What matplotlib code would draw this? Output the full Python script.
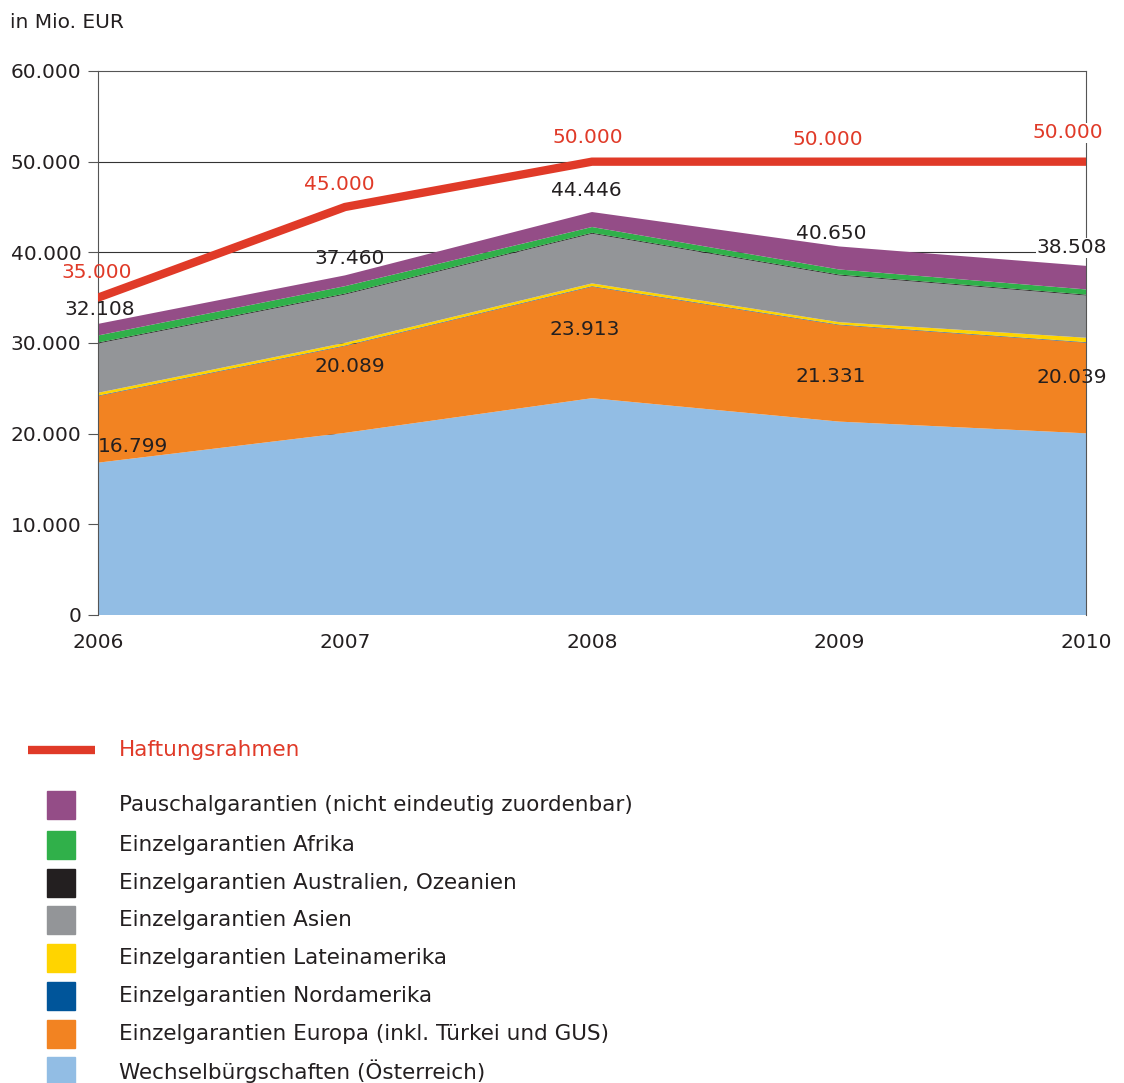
import numpy as np
import matplotlib
matplotlib.use("Agg")
import matplotlib.pyplot as plt
from matplotlib.patches import Rectangle

plt.rcParams['font.family'] = ['DejaVu Sans']
plt.rcParams['font.size'] = 14.5

# Data (Mio. EUR)
years = [2006, 2007, 2008, 2009, 2010]
wechsel = [16799, 20089, 23913, 21331, 20039]
europa = [7350, 9580, 12300, 10650, 10000]
nordamerika = [60, 60, 60, 60, 60]
lateinamerika = [300, 290, 300, 260, 480]
asien = [5440, 5330, 5480, 5150, 4660]
australien = [100, 100, 100, 100, 100]
afrika = [780, 820, 640, 560, 570]
totals = [32108, 37460, 44446, 40650, 38508]
haftung = [35000, 45000, 50000, 50000, 50000]

names = ['Wechselbürgschaften (Österreich)',
         'Einzelgarantien Europa (inkl. Türkei und GUS)',
         'Einzelgarantien Nordamerika',
         'Einzelgarantien Lateinamerika',
         'Einzelgarantien Asien',
         'Einzelgarantien Australien, Ozeanien',
         'Einzelgarantien Afrika',
         'Pauschalgarantien (nicht eindeutig zuordenbar)']
colors = ['#92BDE4', '#F28322', '#00559A', '#FFD400', '#939598', '#231F20', '#30B04A', '#944D87']
red = '#E03A28'
txt = '#231F20'

# Pauschalgarantien = rest up to total
below = np.array(wechsel) + np.array(europa) + np.array(nordamerika) + np.array(lateinamerika) \
    + np.array(asien) + np.array(australien) + np.array(afrika)
pauschal = list(np.array(totals) - below)
layers = [wechsel, europa, nordamerika, lateinamerika, asien, australien, afrika, pauschal]

fig = plt.figure(figsize=(11.24, 10.83), dpi=100)
ax = fig.add_axes([98/1124, 1-615/1083, (1086-98)/1124, (615-71)/1083])

ax.stackplot(years, *layers, colors=colors, zorder=2)
ax.plot(years, haftung, color=red, lw=6, solid_joinstyle='miter', zorder=4)

ax.set_xlim(2006, 2010)
ax.set_ylim(0, 60000)
ax.set_yticks(range(0, 60001, 10000))
ax.yaxis.set_major_formatter(matplotlib.ticker.FuncFormatter(lambda v, p: f"{int(v):,}".replace(",", ".")))
ax.set_xticks(years)
ax.tick_params(axis='x', length=0, pad=13, labelcolor=txt)
ax.tick_params(axis='y', length=7, width=0.8, color='#555555', pad=5, labelcolor=txt)
for y in range(10000, 60000, 10000):
    ax.axhline(y, color='#333333', lw=0.8, zorder=1)
for s in ['left', 'top', 'right']:
    ax.spines[s].set_color('#555555')
    ax.spines[s].set_linewidth(0.8)
ax.spines['bottom'].set_visible(False)
ax.patch.set_alpha(0)

# value labels (offsets in pixels)
box = dict(facecolor='white', edgecolor='none', pad=0.5)
red_off = [(-1, 25), (-6, 23), (-4, 24), (-11, 22), (-18, 29)]
tot_off = [(2, 14), (5, 17), (-6, 22), (-8, 13), (-14, 18)]
wb_off = [(35, 16), (5, 66), (-7, 69), (-8, 45), (-14, 56)]
fmt = lambda v: f"{v:,}".replace(",", ".")
for i, yr in enumerate(years):
    ax.annotate(fmt(haftung[i]), (yr, haftung[i]), xytext=red_off[i], textcoords='offset pixels',
                ha='center', va='center', color=red, bbox=box if i else None, zorder=6,
                annotation_clip=False)
    ax.annotate(fmt(totals[i]), (yr, totals[i]), xytext=tot_off[i], textcoords='offset pixels',
                ha='center', va='center', color=txt, bbox=box if i == 4 else None, zorder=6,
                annotation_clip=False)
    ax.annotate(fmt(wechsel[i]), (yr, wechsel[i]), xytext=wb_off[i], textcoords='offset pixels',
                ha='center', va='center', color=txt, zorder=6, annotation_clip=False)

fig.text(10/1124, 1-22/1083, 'in Mio. EUR', ha='left', va='center', color=txt)

# legend in pixel space
lax = fig.add_axes([0, 0, 1, 1])
lax.set_xlim(0, 1124)
lax.set_ylim(1083, 0)
lax.axis('off')
lax.plot([28, 95], [750, 750], color=red, lw=6, solid_capstyle='butt')
lax.text(119, 750, 'Haftungsrahmen', color=red, va='center', ha='left', fontsize=15.5)
row_y = [805, 845, 883, 920, 958, 996, 1034, 1071]
for j, k in enumerate(range(len(names) - 1, -1, -1)):
    lax.add_patch(Rectangle((47, row_y[j] - 14), 28, 28, color=colors[k]))
    lax.text(119, row_y[j], names[k], color=txt, va='center', ha='left', fontsize=15.5)

fig.savefig('out.png', dpi=100)
